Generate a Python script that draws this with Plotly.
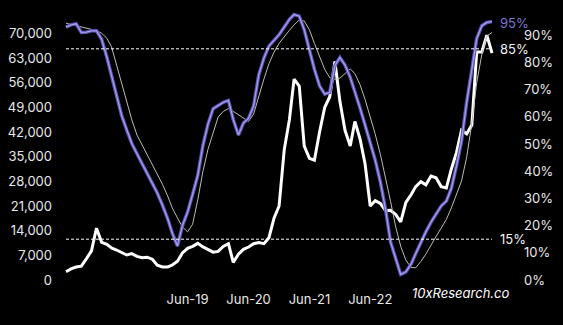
import pandas as pd
import plotly.graph_objects as go

# ---- data ----
dates = pd.date_range("2017-06-01", "2024-06-01", freq="MS")

btc_price = [2350, 3150, 3680, 3930, 6000, 8280, 14700, 10700, 10130, 9100,
             8510, 7800, 7100, 7500, 6700, 6330, 6480, 5900, 4200, 3690,
             3690, 4250, 5300, 7700, 9000, 9550, 10400, 9400, 8700, 7900,
             8100, 9500, 10300, 5000, 7300, 8700, 9360, 10300, 10600, 10300,
             12000, 17600, 21000, 37000, 45500, 57000, 55000, 38000, 34500, 34000,
             42000, 49000, 52000, 62000, 50700, 42400, 38000, 45000, 40000, 33000,
             21000, 22500, 21700, 19700, 19800, 18600, 16500, 22000, 24200, 26500,
             27900, 27000, 29500, 29000, 26500, 26100, 31500, 36200, 42500, 41500,
             44000, 64700, 64700, 69500, 64400]

pct_main = [93, 93.8, 94.2, 91, 91.1, 91.6, 91.6, 88.5, 82, 74.8,
            67.8, 60.5, 55, 50.2, 46.4, 42.8, 39.5, 35.9, 32, 27.5,
            22.6, 17.2, 12.5, 20, 25, 31.5, 38.5, 49.5, 57.3, 63,
            64.1, 65.3, 66, 59, 53.3, 57.7, 59.5, 64, 75.4, 81.6,
            86, 88, 90.2, 93, 95.8, 97.6, 97, 92, 84.6, 77.5,
            71.4, 68.3, 69, 78.8, 81.8, 79, 74.5, 69.4, 63.2, 57,
            50.8, 44.1, 36, 26, 14, 8.3, 2, 3, 5.8, 9.7,
            13.9, 17.7, 21.3, 24.3, 27.2, 29, 33.7, 42, 51, 65.4,
            77.5, 88.7, 93.5, 94.7, 95]

pct_avg = [94.4, 94, 93.6, 93.1, 92.7, 92.3, 91.7, 90.7, 88.9, 85.8,
           78.8, 72, 65, 58.9, 53.3, 49.6, 46, 42.6, 39, 35.2,
           30.9, 26.5, 22.8, 19.5, 17.7, 20.5, 29.5, 40, 48, 54.3,
           59.9, 62, 63, 62, 60.7, 59.5, 58.3, 61, 67.6, 73.9,
           79.5, 83.8, 87, 89.5, 91.8, 93.8, 95.6, 95.2, 92, 87,
           82.3, 77.4, 74.4, 73.8, 74.2, 75.8, 77.6, 75.9, 71.8, 66.4,
           60.2, 53.6, 46.2, 37.8, 28.9, 19.5, 12.4, 7.3, 4.6, 4.5,
           6.8, 9.5, 13, 16, 19.1, 22.3, 26.5, 31.8, 36.4, 45.2,
           57.7, 72.5, 83, 89.7, 91]

thresholds = [85, 15]
left_ticks = [0, 7000, 14000, 21000, 28000, 35000, 42000, 49000, 56000, 63000, 70000]
right_ticks = [0, 10, 20, 30, 40, 50, 60, 70, 80, 90]
x_tick_vals = ["2019-06-01", "2020-06-01", "2021-06-01", "2022-06-01"]
x_tick_text = ["Jun-19", "Jun-20", "Jun-21", "Jun-22"]

FONT = "Inter"

fig = go.Figure()

fig.add_trace(go.Scatter(x=dates, y=pct_avg, yaxis="y2", mode="lines",
                         line=dict(color="#bdbcae", width=1), hoverinfo="skip"))
fig.add_trace(go.Scatter(x=dates, y=pct_main, yaxis="y2", mode="lines",
                         line=dict(color="#5a52b4", width=3.5), hoverinfo="skip"))
fig.add_trace(go.Scatter(x=dates, y=pct_main, yaxis="y2", mode="lines",
                         line=dict(color="#a49ee8", width=1.3), hoverinfo="skip"))
fig.add_trace(go.Scatter(x=dates, y=btc_price, yaxis="y", mode="lines",
                         line=dict(color="#ffffff", width=3), hoverinfo="skip"))

for t in thresholds:
    fig.add_shape(type="line", xref="x", yref="y2", x0=dates[0], x1=dates[-1], y0=t, y1=t,
                  line=dict(color="#ffffff", width=1, dash="3px,2px"))
    fig.add_annotation(x=dates[-1], y=t, xref="x", yref="y2", text=f"{t}%",
                       showarrow=False, xanchor="left", xshift=6,
                       font=dict(family=FONT, size=13, color="#f2f2f2"))

fig.add_annotation(x=dates[-1], y=pct_main[-1], xref="x", yref="y2", text=f"{round(pct_main[-1])}%",
                   showarrow=False, xanchor="left", xshift=6, yshift=-1,
                   font=dict(family=FONT, size=13, color="#7d76cf"))

fig.add_annotation(x=1.04, y=-0.01, xref="paper", yref="paper", text="10xResearch.co",
                   showarrow=False, xanchor="right", yanchor="middle",
                   font=dict(family=FONT, size=13, color="#ffffff", style="italic"))

t0, t1 = dates[0], dates[-1]
px = (t1 - t0) / 428
x_range = [t0 - px * 1, t1 + px * 3]

fig.update_layout(
    width=563, height=325,
    margin=dict(l=63, r=68, t=8, b=35),
    paper_bgcolor="#000000", plot_bgcolor="#000000",
    showlegend=False,
    xaxis=dict(range=x_range, showgrid=False, zeroline=False, showline=False,
               tickvals=x_tick_vals, ticktext=x_tick_text, ticks="",
               tickfont=dict(family=FONT, size=13, color="#e8e8e8")),
    yaxis=dict(range=[-2838, 77180], tickvals=left_ticks, tickformat=",",
               showgrid=False, zeroline=False, showline=False, ticks="",
               ticklabelstandoff=12,
               tickfont=dict(family=FONT, size=13, color="#e8e8e8")),
    yaxis2=dict(range=[-3.68, 100], overlaying="y", side="right", tickvals=right_ticks,
                ticktext=[f"{v}%" for v in right_ticks],
                showgrid=False, zeroline=False, showline=False, ticks="",
                ticklabelstandoff=28,
                tickfont=dict(family=FONT, size=13, color="#e8e8e8")),
)

fig.write_html("out.html")
